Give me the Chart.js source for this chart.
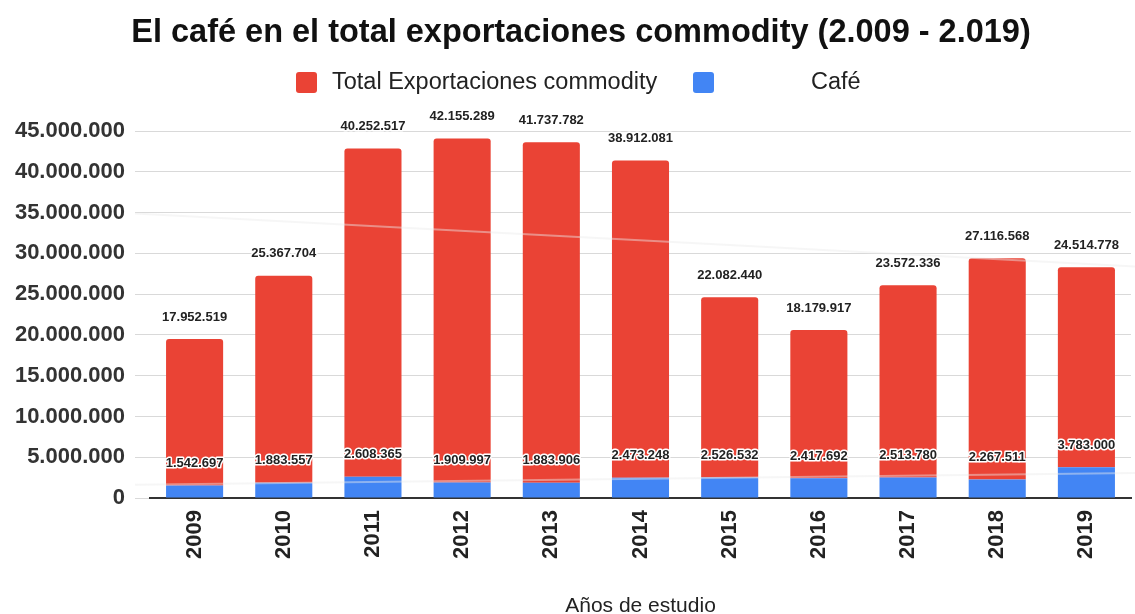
<!DOCTYPE html>
<html>
<head>
<meta charset="utf-8">
<script src="https://cdn.jsdelivr.net/npm/chart.js"></script>
<style>
  html, body { margin: 0; padding: 0; background: #fff; }
  #wrap { width: 1135px; height: 614px; }
</style>
</head>
<body>
<div id="wrap"><canvas id="exportChart" width="1135" height="614"></canvas></div>
<script>
const years = ['2009', '2010', '2011', '2012', '2013', '2014', '2015', '2016', '2017', '2018', '2019'];
const totalExports = [17952519, 25367704, 40252517, 42155289, 41737782, 38912081, 22082440, 18179917, 23572336, 27116568, 24514778];
const coffee = [1542697, 1883557, 2608365, 1909997, 1883906, 2473248, 2526532, 2417692, 2513780, 2267511, 3783000];
const yMax = 45000000;
const yStep = 5000000;

const RED = '#EA4335';
const BLUE = '#4285F4';
const FONT = "'Liberation Sans', Arial, sans-serif";

// 45000000 -> "45.000.000"
const fmt = v => String(Math.round(v)).replace(/\B(?=(\d{3})+(?!\d))/g, '.');

// least squares line over the category index
function linFit(vals) {
  const n = vals.length;
  const mx = (n - 1) / 2;
  const my = vals.reduce((a, b) => a + b, 0) / n;
  let sxy = 0, sxx = 0;
  vals.forEach((v, i) => { sxy += (i - mx) * (v - my); sxx += (i - mx) * (i - mx); });
  const slope = sxy / sxx;
  return i => my + slope * (i - mx);
}

// title and legend sit in the top padding
const headerPlugin = {
  id: 'header',
  afterDraw(chart) {
    const ctx = chart.ctx;
    ctx.save();
    ctx.textBaseline = 'middle';
    ctx.textAlign = 'center';
    ctx.fillStyle = '#111';
    ctx.font = 'bold 32.5px ' + FONT;
    ctx.fillText('El café en el total exportaciones commodity (2.009 - 2.019)', 581, 33);

    ctx.textAlign = 'left';
    ctx.fillStyle = RED;
    ctx.beginPath(); ctx.roundRect(296, 72, 21, 21, 3); ctx.fill();
    ctx.fillStyle = BLUE;
    ctx.beginPath(); ctx.roundRect(693, 72, 21, 21, 3); ctx.fill();
    ctx.fillStyle = '#222';
    ctx.font = '23.5px ' + FONT;
    ctx.fillText('Total Exportaciones commodity', 332, 83);
    ctx.fillText('Café', 811, 83);
    ctx.restore();
  }
};

const trendPlugin = {
  id: 'trendLines',
  afterDatasetsDraw(chart) {
    const xs = chart.scales.x, ys = chart.scales.y;
    const ctx = chart.ctx;
    const x0 = xs.getPixelForValue(0);
    const step = xs.getPixelForValue(1) - x0;
    const left = chart.chartArea.left - 15;
    const right = chart.width;
    const iL = (left - x0) / step, iR = (right - x0) / step;
    const fc = linFit(coffee);
    const ft = linFit(totalExports);
    const lines = [
      [fc(iL), fc(iR)],
      [fc(iL) + ft(iL), fc(iR) + ft(iR)]
    ];
    ctx.save();
    ctx.strokeStyle = 'rgba(235,235,235,0.45)';
    ctx.lineWidth = 2;
    lines.forEach(([a, b]) => {
      ctx.beginPath();
      ctx.moveTo(left, ys.getPixelForValue(a));
      ctx.lineTo(right, ys.getPixelForValue(b));
      ctx.stroke();
    });
    ctx.restore();
  }
};

const labelPlugin = {
  id: 'barLabels',
  afterDatasetsDraw(chart) {
    const ctx = chart.ctx;
    ctx.save();
    ctx.font = 'bold 13px ' + FONT;
    ctx.textAlign = 'center';
    ctx.textBaseline = 'middle';
    ctx.lineJoin = 'round';
    chart.data.datasets.forEach((ds, di) => {
      chart.getDatasetMeta(di).data.forEach((bar, i) => {
        const txt = fmt(ds.data[i]);
        const y = bar.y - 22;
        ctx.strokeStyle = '#fff';
        ctx.lineWidth = 3;
        ctx.strokeText(txt, bar.x, y);
        ctx.fillStyle = '#222';
        ctx.fillText(txt, bar.x, y);
      });
    });
    ctx.restore();
  }
};

new Chart(document.getElementById('exportChart'), {
  type: 'bar',
  data: {
    labels: years,
    datasets: [
      {
        label: 'Café',
        data: coffee,
        backgroundColor: BLUE,
        barPercentage: 0.64,
        categoryPercentage: 1
      },
      {
        label: 'Total Exportaciones commodity',
        data: totalExports,
        backgroundColor: RED,
        borderRadius: { topLeft: 3, topRight: 3 },
        borderSkipped: false,
        barPercentage: 0.64,
        categoryPercentage: 1
      }
    ]
  },
  options: {
    responsive: false,
    animation: false,
    layout: { padding: { left: 0, right: 4, top: 131, bottom: 0 } },
    plugins: {
      legend: { display: false },
      tooltip: { enabled: false },
      title: { display: false }
    },
    scales: {
      x: {
        stacked: true,
        grid: { display: false, drawTicks: false },
        border: { display: true, color: '#333', width: 2 },
        ticks: {
          color: '#222',
          font: { family: FONT, size: 22, weight: 'bold' },
          minRotation: 90,
          maxRotation: 90,
          padding: 12
        },
        title: {
          display: true,
          text: 'Años de estudio',
          color: '#222',
          font: { family: FONT, size: 21, lineHeight: 1 },
          padding: { top: 0, bottom: -3 }
        },
        afterFit(scale) { scale.height = 116; }
      },
      y: {
        stacked: true,
        min: 0,
        max: yMax,
        grid: { color: '#d9d9d9', lineWidth: 1, tickLength: 15 },
        border: { display: false },
        ticks: {
          stepSize: yStep,
          color: '#333',
          font: { family: FONT, size: 22, weight: 'bold' },
          padding: 10,
          callback: v => fmt(v)
        },
        afterFit(scale) { scale.width = 150; }
      }
    }
  },
  plugins: [trendPlugin, labelPlugin, headerPlugin]
});
</script>
</body>
</html>
